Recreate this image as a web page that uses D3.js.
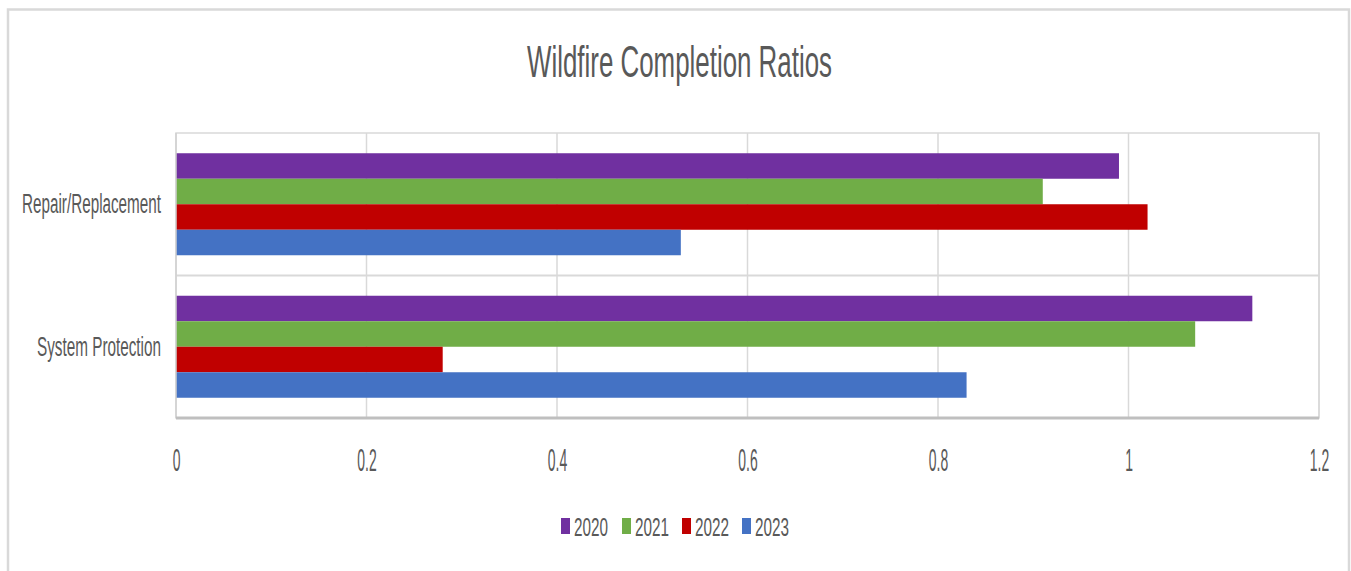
<!DOCTYPE html>
<html>
<head>
<meta charset="utf-8">
<script src="https://cdn.jsdelivr.net/npm/d3@7"></script>
<style>
  html, body { margin: 0; padding: 0; background: #ffffff; }
  svg { display: block; }
  text { font-family: "Liberation Sans", Arial, sans-serif; fill: #595959; }
</style>
</head>
<body>
<svg id="chart" width="1351" height="571"></svg>
<script>
// Chart data
const title = "Wildfire Completion Ratios";
const categories = ["Repair/Replacement", "System Protection"];
const seriesNames = ["2020", "2021", "2022", "2023"];
const seriesColors = ["#7030a0", "#70ad47", "#c00000", "#4472c4"];
const values2020 = [0.99, 1.13];
const values2021 = [0.91, 1.07];
const values2022 = [1.02, 0.28];
const values2023 = [0.53, 0.83];
const tickValues = [0, 0.2, 0.4, 0.6, 0.8, 1, 1.2];

const seriesValues = [values2020, values2021, values2022, values2023];
const rows = [];
categories.forEach((c, ci) => {
  seriesNames.forEach((s, si) => {
    rows.push({ category: c, series: s, value: seriesValues[si][ci], color: seriesColors[si] });
  });
});

const svg = d3.select("#chart");
const W = 1351, H = 571;
const plot = { left: 176, top: 133, right: 1319, bottom: 418 };

svg.append("rect").attr("width", W).attr("height", H).attr("fill", "#ffffff");

// Outer chart frame
svg.append("path")
  .attr("d", `M8,${H + 5} L8,9.5 L1349,9.5 L1349,${H + 5}`)
  .attr("fill", "none")
  .attr("stroke", "#d9d9d9")
  .attr("stroke-width", 2.5);

function fitWidth(sel, w) {
  sel.attr("textLength", w).attr("lengthAdjust", "spacingAndGlyphs");
}

// Title
svg.append("text")
  .attr("x", 679.5)
  .attr("y", 77)
  .attr("text-anchor", "middle")
  .attr("font-size", 45)
  .text(title)
  .call(fitWidth, 305);

// Scales
const x = d3.scaleLinear().domain([0, 1.2]).range([plot.left, plot.right]);
const y = d3.scaleBand().domain(categories).range([plot.top, plot.bottom]).paddingInner(0).paddingOuter(0);
const ySeries = d3.scaleBand().domain(seriesNames).range([0, y.bandwidth()]).paddingInner(0).paddingOuter(0.794);

// Gridlines
svg.append("g")
  .selectAll("line")
  .data(tickValues.filter(d => d > 0))
  .join("line")
  .attr("x1", d => x(d)).attr("x2", d => x(d))
  .attr("y1", plot.top).attr("y2", plot.bottom)
  .attr("stroke", "#d9d9d9")
  .attr("stroke-width", 1.5);

// Plot area frame
svg.append("rect")
  .attr("x", plot.left).attr("y", plot.top)
  .attr("width", plot.right - plot.left).attr("height", plot.bottom - plot.top)
  .attr("fill", "none")
  .attr("stroke", "#d9d9d9")
  .attr("stroke-width", 1.5);

// Category separator
svg.append("line")
  .attr("x1", plot.left).attr("x2", plot.right)
  .attr("y1", y(categories[1])).attr("y2", y(categories[1]))
  .attr("stroke", "#d9d9d9")
  .attr("stroke-width", 2);

// Bars
svg.append("g")
  .selectAll("rect")
  .data(rows)
  .join("rect")
  .attr("x", x(0))
  .attr("y", d => y(d.category) + ySeries(d.series))
  .attr("width", d => x(d.value) - x(0))
  .attr("height", ySeries.bandwidth())
  .attr("fill", d => d.color);

// Category axis line and value axis line
svg.append("line")
  .attr("x1", plot.left).attr("x2", plot.left)
  .attr("y1", plot.top).attr("y2", plot.bottom)
  .attr("stroke", "#d0d0d0")
  .attr("stroke-width", 1.5);
svg.append("line")
  .attr("x1", plot.left).attr("x2", plot.right)
  .attr("y1", plot.bottom).attr("y2", plot.bottom)
  .attr("stroke", "#bfbfbf")
  .attr("stroke-width", 3);

// Category labels
const catWidths = [139, 124];
svg.append("g")
  .selectAll("text")
  .data(categories)
  .join("text")
  .attr("x", 161)
  .attr("y", d => y(d) + y.bandwidth() / 2 + 9)
  .attr("text-anchor", "end")
  .attr("font-size", 27)
  .text(d => d)
  .each(function (d, i) { d3.select(this).call(fitWidth, catWidths[i]); });

// Value axis (labels drawn in a condensed face via horizontal scaling)
const xAxis = d3.axisBottom(x)
  .tickValues(tickValues)
  .tickSize(0)
  .tickPadding(0)
  .tickFormat(d3.format("~g"));
const gx = svg.append("g")
  .attr("transform", `translate(0,${plot.bottom})`)
  .call(xAxis);
gx.select(".domain").remove();
gx.selectAll("text")
  .attr("dy", null)
  .attr("y", 53)
  .attr("font-size", 31)
  .attr("font-family", "Liberation Sans, Arial, sans-serif")
  .attr("fill", "#595959")
  .attr("transform", "scale(0.45,1)");

// Legend
const legendX = [561, 622, 682, 742];
const legend = svg.append("g")
  .selectAll("g")
  .data(seriesNames)
  .join("g")
  .attr("transform", (d, i) => `translate(${legendX[i]},518)`);
legend.append("rect")
  .attr("width", 9).attr("height", 16)
  .attr("fill", (d, i) => seriesColors[i]);
legend.append("text")
  .attr("x", 13)
  .attr("y", 17.5)
  .attr("font-size", 25)
  .text(d => d)
  .call(fitWidth, 34);
</script>
</body>
</html>
